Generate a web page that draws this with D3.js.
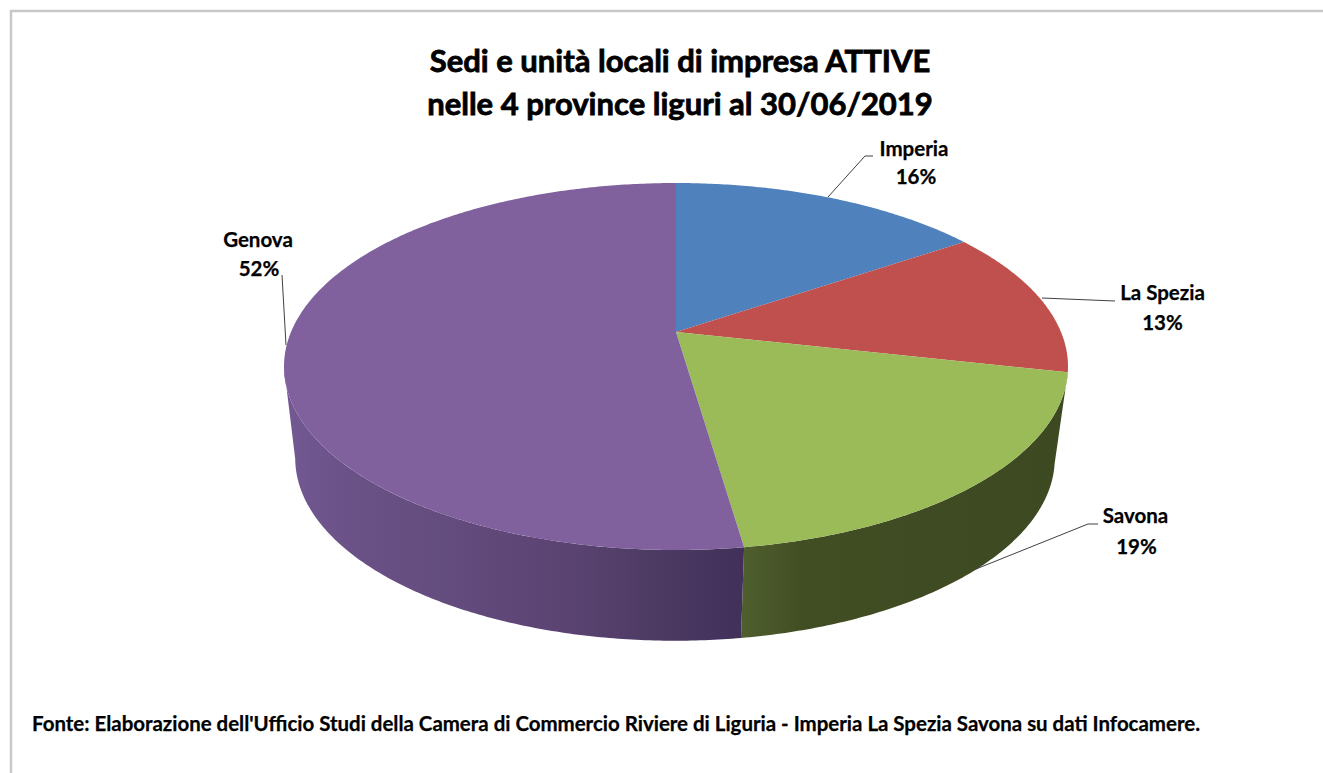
<!DOCTYPE html>
<html>
<head>
<meta charset="utf-8">
<script src="https://cdn.jsdelivr.net/npm/d3@7/dist/d3.min.js"></script>
<style>
html,body{margin:0;padding:0;background:#fff;}
svg{display:block;}
text{font-family:Lato,"Open Sans",sans-serif;font-weight:700;fill:#000;stroke:#000;}
</style>
</head>
<body>
<div id="chart"></div>
<script>
const categories = ["Imperia","La Spezia","Savona","Genova"];
const shares = [15.5,13.0,19.2,52.3];
const percentLabels = ["16%","13%","19%","52%"];
const topColors = ["#4f81bd","#c0504d","#9bbb59","#80619e"];
const titleLines = ["Sedi e unità locali di impresa ATTIVE","nelle 4 province liguri al 30/06/2019"];
const sourceNote = "Fonte: Elaborazione dell'Ufficio Studi della Camera di Commercio Riviere di Liguria - Imperia La Spezia Savona su dati Infocamere.";

const W=1323,H=773;
const svg=d3.select("#chart").append("svg").attr("width",W).attr("height",H);
const line=d3.line();
svg.append("path").attr("d",line([[11,H],[11,11],[W,11]])).attr("fill","none")
  .attr("stroke","#c8c8c8").attr("stroke-width",2.5);

const pie=d3.pie().sort(null).value(d=>d);
const arcs=pie(shares);

// perspective projection of the pie disc
const topDisc={cx:676,apexY:332,R:385,k:0.188,b:177};
const baseDisc={cx:675,apexY:424,R:373,k:0.188,b:176};
function proj(a,p){
  const u=Math.sin(a),v=-Math.cos(a),den=1-p.k*v;
  return [p.cx+p.R*u/den, p.apexY+p.b*v/den];
}
function arcPts(a0,a1,p){
  const n=Math.max(2,Math.ceil((a1-a0)/0.01));
  return d3.range(n+1).map(i=>proj(a0+(a1-a0)*i/n,p));
}

const defs=svg.append("defs");
const gp=defs.append("linearGradient").attr("id","sidePurple").attr("gradientUnits","userSpaceOnUse")
  .attr("x1",284).attr("x2",745).attr("y1",0).attr("y2",0);
[[0,"#745993"],[0.12,"#6b5288"],[0.4,"#624b7c"],[0.62,"#5a4371"],[0.82,"#4c3a62"],[1,"#40305a"]].forEach(s=>gp.append("stop").attr("offset",s[0]).attr("stop-color",s[1]));
const gg=defs.append("linearGradient").attr("id","sideGreen").attr("gradientUnits","userSpaceOnUse")
  .attr("x1",745).attr("x2",1068).attr("y1",0).attr("y2",0);
[[0,"#4f5e2d"],[0.18,"#414e24"],[1,"#3d4921"]].forEach(s=>gg.append("stop").attr("offset",s[0]).attr("stop-color",s[1]));
const sideFills={2:"url(#sideGreen)",3:"url(#sidePurple)"};

// visible wall segments, up to the silhouette points of the disc
const silhouette=[Math.PI*0.5613,Math.PI*1.4387];
const wall=svg.append("g");
[2,3].forEach(i=>{
  const d=arcs[i];
  const a0=Math.max(d.startAngle,silhouette[0]), a1=Math.min(d.endAngle,silhouette[1]);
  const pts=arcPts(a0,a1,topDisc).concat(arcPts(a0,a1,baseDisc).reverse());
  wall.append("path").attr("d",line(pts)+"Z").attr("fill",sideFills[i]);
});

// top faces
svg.append("g").selectAll("path").data(arcs).join("path")
  .attr("d",d=>line([[topDisc.cx,topDisc.apexY]].concat(arcPts(d.startAngle,d.endAngle,topDisc)))+"Z")
  .attr("fill",(d,i)=>topColors[i]);

// title
svg.append("g").selectAll("text").data(titleLines).join("text")
  .attr("x",680).attr("y",(d,i)=>72+i*43).attr("text-anchor","middle")
  .attr("font-size",31).attr("stroke-width",0.8).text(d=>d);

// labels
const labelAt=[[914,156,916,184],[1162.5,300,1162.5,330],[1135.5,523,1136.5,554],[258,247,259,276]];
const lg=svg.append("g");
categories.forEach((c,i)=>{
  const l=labelAt[i];
  lg.append("text").attr("x",l[0]).attr("y",l[1]).attr("text-anchor","middle").attr("font-size",20.5).attr("stroke-width",0.25).text(c);
  lg.append("text").attr("x",l[2]).attr("y",l[3]).attr("text-anchor","middle").attr("font-size",20.5).attr("stroke-width",0.25).text(percentLabels[i]);
});

// leader lines
const leaders=[[[976,569],[1088,524],[1098,524]],[[828,197],[865,156],[873,156]],[[1042,298],[1115,301]],[[286,345],[282,275]]];
svg.append("g").selectAll("path").data(leaders).join("path")
  .attr("d",d=>line(d)).attr("fill","none").attr("stroke","#404040").attr("stroke-width",1);

svg.append("text").attr("x",32).attr("y",731).attr("font-size",20.4).attr("stroke-width",0.25)
  .attr("textLength",1168).attr("lengthAdjust","spacingAndGlyphs").text(sourceNote);
</script>
</body>
</html>
